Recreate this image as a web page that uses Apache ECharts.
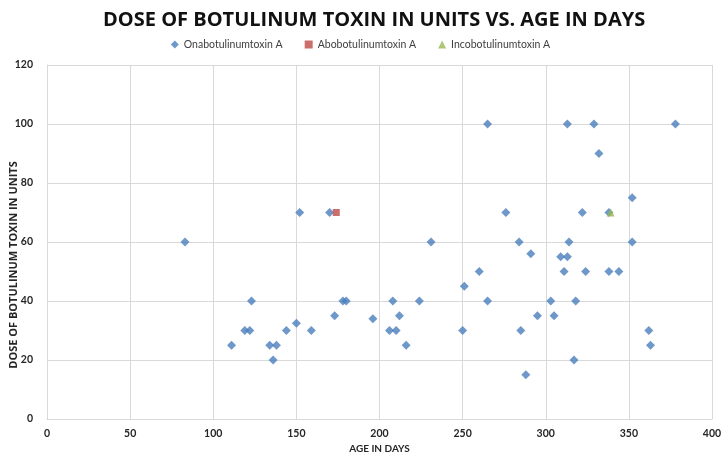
<!DOCTYPE html>
<html>
<head>
<meta charset="utf-8">
<script src="https://cdn.jsdelivr.net/npm/echarts@6/dist/echarts.min.js"></script>
<style>html,body{margin:0;padding:0;background:#fff;}#c{width:721px;height:455px;}</style>
</head>
<body>
<div id="c"></div>
<script>
const titleText = "DOSE OF BOTULINUM TOXIN IN UNITS VS. AGE IN DAYS";
const xAxisName = "AGE IN DAYS";
const yAxisName = "DOSE OF BOTULINUM TOXIN IN UNITS";
const seriesNames = ["Onabotulinumtoxin A", "Abobotulinumtoxin A", "Incobotulinumtoxin A"];

const onaAge  = [83,111,119,122,123,134,136,138,144,150,152,159,170,173,178,180,196,206,208,210,212,216,224,231,250,251,260,265,265,276,284,285,288,291,295,303,305,309,311,313,313,314,317,318,322,324,329,332,338,338,344,352,352,362,363,378];
const onaDose = [60, 25, 30, 30, 40, 25, 20, 25, 30,32.5,70, 30, 70, 35, 40, 40, 34, 30, 40, 30, 35, 25, 40, 60, 30, 45, 50,100, 40, 70, 60, 30, 15, 56, 35, 40, 35, 55, 50,100, 55, 60, 20, 40, 70, 50,100, 90, 50, 70, 50, 75, 60, 30, 25,100];
const aboAge  = [174];
const aboDose = [70];
const incoAge  = [339];
const incoDose = [70];

const pairs = (xs, ys) => xs.map((x, i) => [x, ys[i]]);

const chart = echarts.init(document.getElementById('c'));
const axisLabelStyle = {color:'#262626', fontFamily:'Lato', fontWeight:'bold', fontSize:10.5};
chart.setOption({
  animation:false,
  title:{text:titleText, left:98, top:5,
    textStyle:{fontFamily:'Open Sans', fontWeight:'bold', fontSize:20, color:'#111'}},
  legend:{top:34, left:'center', itemGap:22, itemWidth:8, itemHeight:8,
    textStyle:{fontFamily:'Lato', fontSize:10.5, color:'#404040'},
    data:[{name:seriesNames[0], icon:'diamond'},{name:seriesNames[1], icon:'rect'},{name:seriesNames[2], icon:'triangle'}]},
  grid:{left:47, right:9, top:65, bottom:36, outerBoundsMode:'none', containLabel:false},
  xAxis:{type:'value', min:0, max:400, interval:50,
    name:xAxisName, nameLocation:'middle', nameGap:25, nameMoveOverlap:false,
    nameTextStyle:{fontFamily:'Lato', fontWeight:'bold', fontSize:10, color:'#262626'},
    axisLine:{show:true, lineStyle:{color:'#d9d9d9'}}, axisTick:{show:false},
    axisLabel:Object.assign({margin:9}, axisLabelStyle),
    splitLine:{show:true, lineStyle:{color:'#d9d9d9', width:1}}},
  yAxis:{type:'value', min:0, max:120, interval:20,
    name:yAxisName, nameLocation:'middle', nameGap:28, nameMoveOverlap:false,
    nameTextStyle:{fontFamily:'Open Sans', fontWeight:'bold', fontSize:11, color:'#262626', padding:[0,46,0,0]},
    axisLine:{show:true, lineStyle:{color:'#d9d9d9'}}, axisTick:{show:false},
    axisLabel:Object.assign({margin:14}, axisLabelStyle),
    splitLine:{show:true, lineStyle:{color:'#d9d9d9', width:1}}},
  series:[
    {name:seriesNames[0], type:'scatter', symbol:'diamond', symbolSize:9,
      itemStyle:{color:'#4a7ebb'}, data:pairs(onaAge, onaDose)},
    {name:seriesNames[1], type:'scatter', symbol:'rect', symbolSize:7,
      itemStyle:{color:'#be4b48'}, data:pairs(aboAge, aboDose)},
    {name:seriesNames[2], type:'scatter', symbol:'triangle', symbolSize:8,
      itemStyle:{color:'#98b954'}, data:pairs(incoAge, incoDose)}
  ]
});
</script>
</body>
</html>
